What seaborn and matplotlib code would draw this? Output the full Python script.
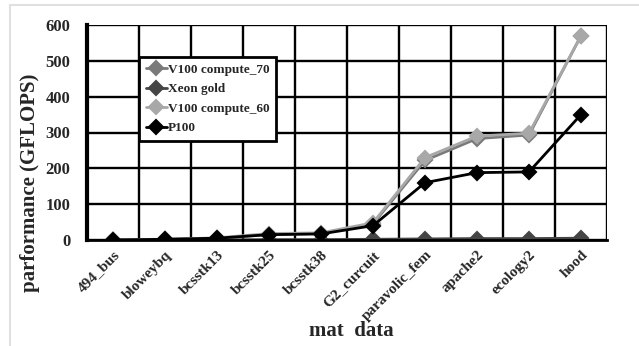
import pandas as pd
import matplotlib
matplotlib.use("Agg")
import matplotlib.pyplot as plt
import seaborn as sns
from matplotlib.patches import Rectangle
from matplotlib.ticker import FixedLocator

# data
matrices = ["494_bus", "bloweybq", "bcsstk13", "bcsstk25", "bcsstk38",
            "G2_curcuit", "paravolic_fem", "apache2", "ecology2", "hood"]
v100_70 = [0, 2, 5, 15, 18, 45, 222, 283, 293, 570]
xeon = [0, 0, 0, 1, 1, 2, 3, 4, 4, 5]
v100_60 = [0, 2, 6, 18, 20, 48, 230, 290, 298, 570]
p100 = [0, 2, 5, 15, 17, 40, 160, 188, 190, 350]

series = ["V100 compute_70", "Xeon gold", "V100 compute_60", "P100"]
colors = ["#7a7a7a", "#454545", "#a8a8a8", "#000000"]

df = pd.concat([
    pd.DataFrame({"mat": matrices, "perf": vals, "device": name})
    for name, vals in zip(series, [v100_70, xeon, v100_60, p100])
])

sns.set_style("white")
plt.rcParams["font.family"] = ["Liberation Serif", "DejaVu Serif"]
plt.rcParams["font.weight"] = "bold"
plt.rcParams["grid.color"] = "black"

fig = plt.figure(figsize=(6.39, 3.46), dpi=100)
ax = fig.add_axes([87 / 639, 1 - 240 / 346, 520 / 639, 215 / 346])

# light frame around the chart area
fig.patches.append(Rectangle((10 / 639, -0.1), 1.2, 1 - 5 / 346 + 0.1,
                             transform=fig.transFigure, fill=False,
                             edgecolor="#e0e0e0", linewidth=1.5, zorder=0))

sns.pointplot(data=df, x="mat", y="perf", hue="device", order=matrices,
              hue_order=series, palette=colors, markers="D",
              markersize=7, linewidth=2, dodge=False, errorbar=None, ax=ax)

ax.set_xlim(-0.5, len(matrices) - 0.5)
ax.set_ylim(0, 600)
ax.set_yticks(range(0, 601, 100))
ax.xaxis.set_minor_locator(FixedLocator([i - 0.5 for i in range(len(matrices) + 1)]))
ax.grid(True, which="minor", axis="x", color="black", linewidth=1.7, alpha=1)
ax.grid(True, which="major", axis="y", color="black", linewidth=1.7, alpha=1)
ax.grid(False, which="major", axis="x")
ax.set_axisbelow(True)
ax.tick_params(axis="both", which="both", length=0)
ax.tick_params(axis="y", pad=12, labelsize=12)
ax.tick_params(axis="x", pad=6, labelsize=11)
plt.setp(ax.get_xticklabels(), rotation=45, ha="right", rotation_mode="anchor",
         fontweight="bold")
plt.setp(ax.get_yticklabels(), fontweight="bold")

for side in ["top", "right"]:
    ax.spines[side].set_visible(False)
ax.spines["left"].set_linewidth(3)
ax.spines["bottom"].set_linewidth(2)
ax.spines["left"].set_color("black")
ax.spines["bottom"].set_color("black")

ax.set_xlabel("mat  data", fontsize=15, fontweight="bold")
ax.set_ylabel("parformance (GFLOPS)", fontsize=15, fontweight="bold")
ax.xaxis.set_label_coords(0.508, -0.375)
ax.yaxis.set_label_coords(-0.09, 0.265)

leg = ax.legend(loc="upper left", bbox_to_anchor=(0.1, 0.851), fancybox=False,
                frameon=True, handlelength=1.6, handletextpad=0.1,
                borderpad=0.5, labelspacing=0.55, framealpha=1, borderaxespad=0,
                prop={"weight": "bold", "size": 9.5})
leg.get_frame().set_edgecolor("black")
leg.get_frame().set_linewidth(2)
leg.set_zorder(5)

fig.savefig("out.png", dpi=100)
